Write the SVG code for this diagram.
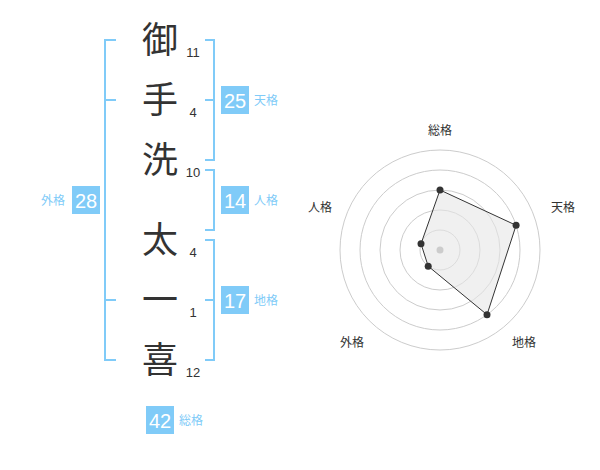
<svg xmlns="http://www.w3.org/2000/svg" width="600" height="470" viewBox="0 0 600 470">
<style>
.kanji{font-family:"Noto Sans CJK JP","Noto Sans CJK SC",sans-serif;font-size:36px;fill:#333;text-anchor:middle}
.num{font-family:"Liberation Sans",Arial,sans-serif;font-size:13px;fill:#333;text-anchor:middle}
.br{fill:none;stroke:#80cbf8;stroke-width:2}
.box{fill:#80cbf8}
.bt{font-family:"Liberation Sans",Arial,sans-serif;font-size:20px;fill:#fff;text-anchor:middle}
.lbl{font-family:"Noto Sans CJK JP","Noto Sans CJK SC",sans-serif;font-size:12px;fill:#80cbf8}
.ring{fill:none;stroke:#ccc;stroke-width:1}
.rl{font-family:"Noto Sans CJK JP","Noto Sans CJK SC",sans-serif;font-size:12px;fill:#333;text-anchor:middle}
.dot{fill:#333}
</style>
<rect width="600" height="470" fill="#fff"/>
<g id="chars">
<g id="c1"><text class="kanji" x="160" y="53">御</text><text class="num" x="193" y="57">11</text></g>
<g id="c2"><text class="kanji" x="160" y="113">手</text><text class="num" x="193" y="117">4</text></g>
<g id="c3"><text class="kanji" x="160" y="173">洗</text><text class="num" x="193" y="177">10</text></g>
<g id="c4"><text class="kanji" x="160" y="253">太</text><text class="num" x="193" y="257">4</text></g>
<g id="c5"><text class="kanji" x="160" y="313">一</text><text class="num" x="193" y="317">1</text></g>
<g id="c6"><text class="kanji" x="160" y="373">喜</text><text class="num" x="193" y="377">12</text></g>
</g>
<g id="connectors">
<path class="br" d="M116,40 H105 V360 H116 M105,100 H116 M105,300 H116"/>
<path class="br" d="M205,40 H214 V160 H205 M214,100 H205"/>
<path class="br" d="M205,170 H214 V230 H205"/>
<path class="br" d="M205,240 H214 V360 H205 M214,300 H205"/>
</g>
<g id="tenkaku"><rect class="box" x="221" y="86" width="28" height="28"/><text class="bt" x="235" y="107.5">25</text><text class="lbl" x="254" y="105">天格</text></g>
<g id="jinkaku"><rect class="box" x="221" y="186" width="28" height="28"/><text class="bt" x="235" y="207.5">14</text><text class="lbl" x="254" y="205">人格</text></g>
<g id="chikaku"><rect class="box" x="221" y="286" width="28" height="28"/><text class="bt" x="235" y="307.5">17</text><text class="lbl" x="254" y="305">地格</text></g>
<g id="gaikaku"><rect class="box" x="72" y="186" width="28" height="28"/><text class="bt" x="86" y="207.5">28</text><text class="lbl" x="41" y="205">外格</text></g>
<g id="soukaku"><rect class="box" x="146" y="406" width="28" height="28"/><text class="bt" x="160" y="427.5">42</text><text class="lbl" x="179" y="425">総格</text></g>
<g id="radar">
<circle class="ring" cx="440" cy="250" r="20"/>
<circle class="ring" cx="440" cy="250" r="40"/>
<circle class="ring" cx="440" cy="250" r="60"/>
<circle class="ring" cx="440" cy="250" r="80"/>
<circle class="ring" cx="440" cy="250" r="100"/>
<polygon points="440,190 516.1,225.3 487,314.7 428.2,266.2 421,243.8" fill="#e6e6e6" fill-opacity="0.6" stroke="#333" stroke-width="1"/>
<circle cx="440" cy="250" r="3.5" fill="#ccc"/>
<circle class="dot" cx="440" cy="190" r="3.5"/>
<circle class="dot" cx="516.1" cy="225.3" r="3.5"/>
<circle class="dot" cx="487" cy="314.7" r="3.5"/>
<circle class="dot" cx="428.2" cy="266.2" r="3.5"/>
<circle class="dot" cx="421" cy="243.8" r="3.5"/>
<text class="rl" x="440" y="135">総格</text>
<text class="rl" x="563" y="212">天格</text>
<text class="rl" x="320" y="212">人格</text>
<text class="rl" x="352" y="347">外格</text>
<text class="rl" x="524" y="347">地格</text>
</g>
</svg>
